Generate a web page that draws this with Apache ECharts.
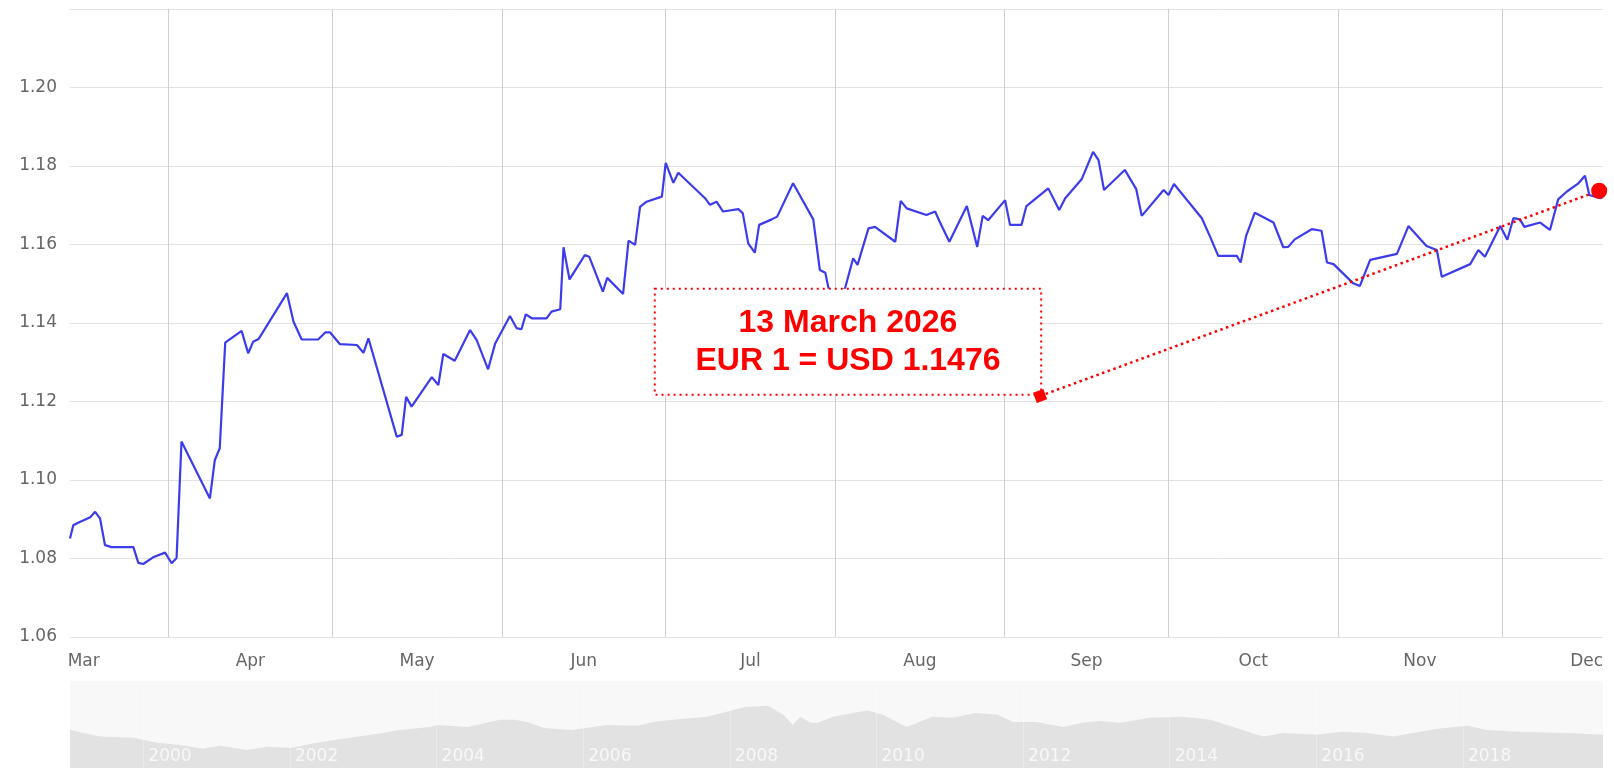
<!DOCTYPE html>
<html>
<head>
<meta charset="utf-8">
<title>EUR / USD</title>
<script src="https://cdn.jsdelivr.net/npm/echarts@6/dist/echarts.min.js"></script>
<style>
  html, body { margin: 0; padding: 0; background: #fff; }
  #chart { width: 1614px; height: 768px; }
</style>
</head>
<body>
<div id="chart"></div>
<script>
// x is "days since 1 March", y is USD per EUR
const dayIndex = [
  13.0, 13.6, 14.5, 16.7, 17.6, 18.5, 19.4, 20.6, 24.6, 25.5,
  26.4, 28.2, 30.4, 31.6, 32.5, 33.4, 38.6, 39.5, 40.4, 41.4,
  44.4, 45.6, 46.5, 47.5, 52.7, 53.9, 55.4, 58.4, 59.7, 60.6,
  62.4, 65.5, 66.7, 67.6, 72.8, 73.7, 74.5, 75.5, 79.2, 80.4,
  81.3, 83.4, 86.2, 87.4, 89.5, 90.8, 93.5, 94.7, 95.6, 96.4,
  97.5, 100.2, 101.1, 102.7, 103.3, 104.4, 107.2, 108.0, 110.5, 111.3,
  114.2, 115.2, 116.4, 117.3, 118.5, 121.3, 122.0, 123.4, 124.3, 129.2,
  130.1, 131.3, 132.5, 135.3, 136.1, 137.1, 138.3, 139.1, 141.4, 142.4,
  145.3, 149.0, 150.2, 151.2, 151.8, 153.2, 154.8, 156.3, 157.1, 159.1,
  160.3, 164.0, 165.0, 166.1, 169.7, 171.3, 172.2, 173.9, 177.1, 179.0,
  180.0, 181.0, 184.1, 185.0, 187.1, 188.0, 192.0, 194.0, 195.1, 198.1,
  200.2, 201.2, 202.2, 206.0, 208.1, 209.1, 213.1, 214.0, 215.0, 220.1,
  221.6, 223.1, 226.5, 227.2, 228.2, 229.8, 233.2, 235.0, 235.9, 237.1,
  240.2, 242.0, 243.0, 244.2, 247.8, 249.0, 250.9, 255.8, 257.9, 261.2,
  263.1, 264.0, 269.2, 270.7, 271.9, 274.7, 276.0, 277.1, 278.3, 279.1,
  282.0, 283.8, 285.3, 286.9, 289.0, 290.2, 291.0, 293.0, 293.5
]
const rates = [
  1.0851, 1.0885, 1.0891, 1.0905, 1.0919, 1.0902, 1.0834, 1.0829, 1.0829, 1.0789,
  1.0786, 1.0803, 1.0815, 1.0788, 1.0801, 1.1098, 1.0953, 1.1051, 1.1081, 1.1350,
  1.1380, 1.1323, 1.1352, 1.1359, 1.1476, 1.1403, 1.1358, 1.1358, 1.1376, 1.1376,
  1.1346, 1.1344, 1.1324, 1.1361, 1.1110, 1.1115, 1.1212, 1.1187, 1.1262, 1.1242,
  1.1321, 1.1304, 1.1382, 1.1357, 1.1282, 1.1348, 1.1418, 1.1387, 1.1384, 1.1422,
  1.1412, 1.1412, 1.1429, 1.1435, 1.1593, 1.1511, 1.1573, 1.1569, 1.1480, 1.1515,
  1.1474, 1.1610, 1.1599, 1.1696, 1.1709, 1.1722, 1.1808, 1.1757, 1.1783, 1.1718,
  1.1701, 1.1709, 1.1684, 1.1690, 1.1680, 1.1603, 1.1579, 1.1650, 1.1664, 1.1671,
  1.1756, 1.1664, 1.1535, 1.1528, 1.1488, 1.1475, 1.1488, 1.1565, 1.1548, 1.1641,
  1.1645, 1.1607, 1.1711, 1.1692, 1.1675, 1.1684, 1.1656, 1.1607, 1.1698, 1.1594,
  1.1673, 1.1662, 1.1713, 1.1650, 1.1650, 1.1698, 1.1743, 1.1688, 1.1718, 1.1766,
  1.1836, 1.1815, 1.1739, 1.1790, 1.1741, 1.1673, 1.1739, 1.1726, 1.1754, 1.1667,
  1.1620, 1.1571, 1.1571, 1.1554, 1.1622, 1.1681, 1.1656, 1.1593, 1.1594, 1.1613,
  1.1639, 1.1635, 1.1554, 1.1550, 1.1501, 1.1494, 1.1561, 1.1576, 1.1647, 1.1596,
  1.1586, 1.1518, 1.1550, 1.1586, 1.1569, 1.1647, 1.1612, 1.1667, 1.1664, 1.1645,
  1.1656, 1.1637, 1.1715, 1.1735, 1.1756, 1.1775, 1.1726, 1.1718, 1.1721
]

// month starts (grid lines) and month middles (labels)
const monthStarts = [31, 61, 92, 122, 153, 184, 214, 245, 275]
const monthMid = [15.5, 46, 76.5, 107, 137.5, 168.5, 199, 229.5, 260, 290.5]
const monthLabels = ['Mar', 'Apr', 'May', 'Jun', 'Jul', 'Aug', 'Sep', 'Oct', 'Nov', 'Dec']
const rateTicks = [1.06, 1.08, 1.10, 1.12, 1.14, 1.16, 1.18, 1.20, 1.22]

// navigator: long history
const navYears = [
  1999.00, 1999.41, 1999.86, 2000.19, 2000.50, 2000.81, 2001.05, 2001.41, 2001.69, 2002.00,
  2002.37, 2002.82, 2003.27, 2003.50, 2003.91, 2004.01, 2004.42, 2004.87, 2005.07, 2005.23,
  2005.38, 2005.49, 2005.86, 2006.01, 2006.33, 2006.75, 2006.95, 2007.32, 2007.69, 2007.89,
  2008.21, 2008.52, 2008.73, 2008.86, 2008.96, 2009.10, 2009.20, 2009.41, 2009.78, 2009.87,
  2010.09, 2010.41, 2010.56, 2010.76, 2011.03, 2011.35, 2011.65, 2011.86, 2012.18, 2012.55,
  2012.81, 2013.05, 2013.32, 2013.73, 2014.18, 2014.55, 2014.87, 2015.19, 2015.28, 2015.55,
  2016.01, 2016.33, 2016.69, 2017.05, 2017.32, 2017.65, 2018.06, 2018.33, 2018.74, 2019.42,
  2019.91
]
const navRates = [
  1.18, 1.07, 1.05, 0.97, 0.93, 0.87, 0.92, 0.85, 0.90, 0.88,
  0.97, 1.05, 1.13, 1.18, 1.23, 1.26, 1.23, 1.35, 1.35, 1.31,
  1.25, 1.21, 1.18, 1.21, 1.26, 1.25, 1.31, 1.36, 1.40, 1.46,
  1.56, 1.58, 1.43, 1.26, 1.40, 1.30, 1.30, 1.40, 1.48, 1.50,
  1.43, 1.23, 1.30, 1.40, 1.38, 1.46, 1.43, 1.31, 1.31, 1.23,
  1.30, 1.33, 1.30, 1.38, 1.40, 1.35, 1.23, 1.10, 1.07, 1.13,
  1.10, 1.15, 1.13, 1.07, 1.13, 1.20, 1.25, 1.18, 1.15, 1.13,
  1.10
]
const navYearTicks = [2000, 2002, 2004, 2006, 2008, 2010, 2012, 2014, 2016, 2018]

// callout
const calloutText = ['13 March 2026', 'EUR 1 = USD 1.1476']
const calloutAnchor = [190.5, 1.1214]
const latestPoint = [292.8, 1.1737]
const boxFrom = [120.0, 1.1487]
const boxTo = [190.7, 1.1217]

const RED = '#ff0000'
const labelFont = 'DejaVu Sans'

const chart = echarts.init(document.getElementById('chart'))

chart.setOption({
  animation: false,
  backgroundColor: '#ffffff',
  grid: [
    { left: 70, right: 11, top: 9, bottom: 131 },
    { left: 70, right: 11, top: 681, bottom: 0, show: true, backgroundColor: '#f8f8f8', borderWidth: 0 }
  ],
  xAxis: [
    {
      type: 'value',
      gridIndex: 0,
      min: 13,
      max: 293.5,
      axisLine: { show: false },
      axisTick: { show: false, customValues: monthStarts },
      splitLine: { show: true, lineStyle: { color: '#d0d0d0', width: 1 } },
      axisLabel: {
        customValues: monthMid,
        margin: 16,
        color: '#666666',
        fontSize: 17,
        fontFamily: labelFont,
        formatter: (v) => monthLabels[monthMid.indexOf(v)] || ''
      }
    },
    {
      // drawn above the navigator area so the year labels stay visible
      type: 'value',
      gridIndex: 1,
      z: 5,
      min: 1999,
      max: 2019.91,
      axisLine: { show: false },
      axisTick: { show: false, customValues: navYearTicks },
      splitLine: { show: true, lineStyle: { color: 'rgba(255,255,255,0.3)', width: 1 } },
      axisLabel: {
        customValues: navYearTicks,
        inside: true,
        margin: 3,
        align: 'left',
        padding: [0, 0, 0, 5],
        color: 'rgba(255,255,255,0.75)',
        fontSize: 17,
        fontFamily: labelFont,
        formatter: (v) => String(v)
      }
    }
  ],
  yAxis: [
    {
      type: 'value',
      gridIndex: 0,
      min: rateTicks[0],
      max: rateTicks[rateTicks.length - 1],
      interval: 0.02,
      axisLine: { show: false },
      axisTick: { show: false },
      splitLine: { lineStyle: { color: '#e2e2e2', width: 1 } },
      axisLabel: {
        showMaxLabel: false,
        margin: 13,
        color: '#666666',
        fontSize: 17,
        fontFamily: labelFont,
        formatter: (v) => v.toFixed(2)
      }
    },
    {
      type: 'value',
      gridIndex: 1,
      min: 0.55,
      max: 1.99,
      show: false,
      splitLine: { show: false }
    }
  ],
  series: [
    {
      name: 'EUR/USD',
      type: 'line',
      xAxisIndex: 0,
      yAxisIndex: 0,
      z: 2,
      symbol: 'none',
      lineStyle: { color: '#3c3cec', width: 2.2 },
      data: dayIndex.map((d, i) => [d, rates[i]])
    },
    {
      name: 'callout',
      type: 'line',
      xAxisIndex: 0,
      yAxisIndex: 0,
      z: 4,
      clip: false,
      showSymbol: true,
      lineStyle: { color: RED, width: 2.5, type: [2.5, 3.5] },
      itemStyle: { color: RED },
      data: [
        { value: calloutAnchor, symbol: 'rect', symbolSize: 11, symbolRotate: 20 },
        { value: latestPoint, symbol: 'circle', symbolSize: 16 }
      ],
      markArea: {
        z: 4,
        silent: true,
        itemStyle: { color: '#ffffff', borderColor: RED, borderWidth: 2, borderType: [2, 4] },
        label: {
          show: true,
          position: 'inside',
          color: RED,
          fontSize: 32,
          lineHeight: 38,
          fontWeight: 'bold',
          fontFamily: 'Liberation Sans',
          formatter: calloutText.join('\n')
        },
        data: [[{ coord: boxFrom }, { coord: boxTo }]]
      }
    },
    {
      name: 'navigator',
      type: 'line',
      xAxisIndex: 1,
      yAxisIndex: 1,
      symbol: 'none',
      lineStyle: { width: 0 },
      areaStyle: { color: 'rgba(190,190,190,0.55)', origin: 'start' },
      data: navYears.map((y, i) => [y, navRates[i]])
    }
  ]
})
</script>
</body>
</html>
